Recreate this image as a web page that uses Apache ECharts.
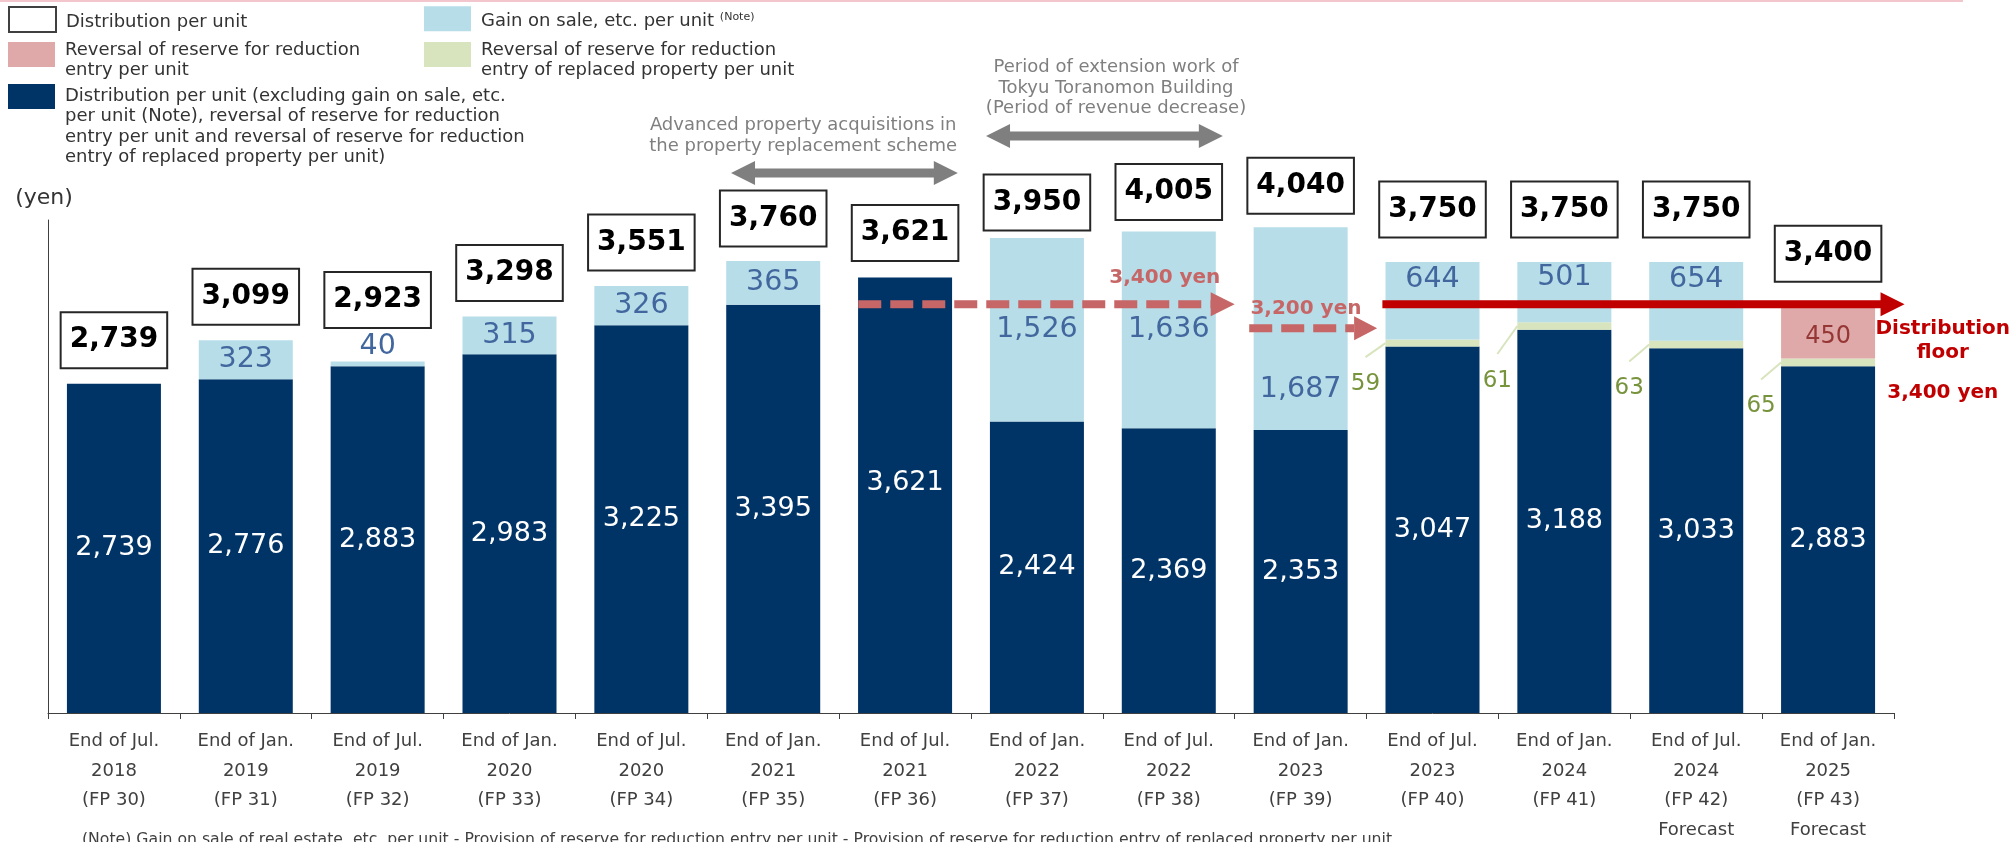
<!DOCTYPE html>
<html>
<head>
<meta charset="utf-8">
<script src="https://cdn.jsdelivr.net/npm/echarts@6/dist/echarts.min.js"></script>
<style>
html,body{margin:0;padding:0;background:#fff;}
#chart{width:2011px;height:842px;}
</style>
</head>
<body>
<div id="chart"></div>
<script>
// ---------- data ----------
const categories = [
  'End of Jul.\n2018\n(FP 30)', 'End of Jan.\n2019\n(FP 31)', 'End of Jul.\n2019\n(FP 32)',
  'End of Jan.\n2020\n(FP 33)', 'End of Jul.\n2020\n(FP 34)', 'End of Jan.\n2021\n(FP 35)',
  'End of Jul.\n2021\n(FP 36)', 'End of Jan.\n2022\n(FP 37)', 'End of Jul.\n2022\n(FP 38)',
  'End of Jan.\n2023\n(FP 39)', 'End of Jul.\n2023\n(FP 40)', 'End of Jan.\n2024\n(FP 41)',
  'End of Jul.\n2024\n(FP 42)\nForecast', 'End of Jan.\n2025\n(FP 43)\nForecast'
];
const baseValues       = [2739, 2776, 2883, 2983, 3225, 3395, 3621, 2424, 2369, 2353, 3047, 3188, 3033, 2883];
const replacedReversal = [null, null, null, null, null, null, null, null, null, null, 59, 61, 63, 65];
const gainValues       = [null, 323, 40, 315, 326, 365, null, 1526, 1636, 1687, 644, 501, 654, null];
const reserveReversal  = [null, null, null, null, null, null, null, null, null, null, null, null, null, 450];
const totals           = [2739, 3099, 2923, 3298, 3551, 3760, 3621, 3950, 4005, 4040, 3750, 3750, 3750, 3400];
const floorValues      = [3400, 3200, 3400];
const floorLabels      = ['3,400 yen', '3,200 yen', 'Distribution\nfloor'];
const floorSubLabel    = '3,400 yen';
const periodRanges     = [[5, 6], [7, 8]];
const periodTexts      = [
  'Advanced property acquisitions in\nthe property replacement scheme',
  'Period of extension work of\nTokyu Toranomon Building\n(Period of revenue decrease)'
];
const noteText = '(Note) Gain on sale of real estate, etc. per unit - Provision of reserve for reduction entry per unit - Provision of reserve for reduction entry of replaced property per unit';

const NAME_TOTAL = 'Distribution per unit';
const NAME_GAIN = 'Gain on sale, etc. per unit';
const NAME_RESERVE = 'Reversal of reserve for reduction entry per unit';
const NAME_REPLACED = 'Reversal of reserve for reduction entry of replaced property per unit';
const NAME_BASE = 'Distribution per unit (excluding gain on sale, etc. per unit (Note), reversal of reserve for reduction entry per unit and reversal of reserve for reduction entry of replaced property per unit)';

// ---------- layout / style ----------
const FONT = '"DejaVu Sans", Verdana, sans-serif';
const C_NAVY = '#003366', C_LBLUE = '#b7dde8', C_PINK = '#e0a9a9', C_GREEN = '#d7e4bd';
const BAR_W = 94;
const totalLabelGap = [16, 16, 34, 16, 16, 15, 17, 8, 12, 14, 25, 25, 25, 23];
const baseLabelOffset = {6: [0, -12]};
const gainLabelLayout = {
  2: {position: 'top', distance: 0},
  9: {position: 'inside', offset: [0, 61]},
  10: {position: 'insideTop', distance: 3},
  11: {position: 'insideTop', distance: 1},
  12: {position: 'insideTop', distance: 3}
};
const leaderDrop = {10: 14, 11: 28, 12: 17, 13: 17};
const floorLayout = [
  {fromCat: 6, fromOff: -0.355, toCat: 8, toOff: 0.5, dashed: true, color: '#c76666', width: 8, head: 24, half: 12, labelCat: 8, labelOff: -0.03, labelDy: -26},
  {fromCat: 9, fromOff: -0.39, toCat: 9, toOff: 0.58, dashed: true, color: '#c76666', width: 8, head: 23, half: 12, labelCat: 9, labelOff: 0.04, labelDy: -19},
  {fromCat: 10, fromOff: -0.38, toCat: 13, toOff: 0.58, dashed: false, color: '#c00000', width: 8, head: 24, half: 12, labelCat: 13, labelOff: 0.87, labelDy: 37, subDy: 89}
];
const periodLayout = [
  {arrowY: 173, fromOff: -0.32, toOff: 0.40, textCat: 5, textOff: 0.227, textY: 136},
  {arrowY: 136, fromOff: -0.386, toOff: 0.41, textCat: 7, textOff: 0.6, textY: 88}
];
const legendText = {};
legendText[NAME_TOTAL] = 'Distribution per unit';
legendText[NAME_GAIN] = 'Gain on sale, etc. per unit {sup|(Note)}';
legendText[NAME_RESERVE] = 'Reversal of reserve for reduction\nentry per unit';
legendText[NAME_REPLACED] = 'Reversal of reserve for reduction\nentry of replaced property per unit';
legendText[NAME_BASE] = 'Distribution per unit (excluding gain on sale, etc.\nper unit (Note), reversal of reserve for reduction\nentry per unit and reversal of reserve for reduction\nentry of replaced property per unit)';

const fmt = v => Number(v).toLocaleString('en-US');

function txt(x, y, text, font, fill, lineHeight) {
  const st = {x: x, y: y, text: text, font: font, fill: fill,
    align: 'center', verticalAlign: 'middle', textAlign: 'center', textVerticalAlign: 'middle'};
  if (lineHeight) st.lineHeight = lineHeight;
  return {type: 'text', style: st};
}

function makeLegend(name, left, top, icon, padTop) {
  return {
    data: [Object.assign({name: name, icon: 'rect'}, icon ? {itemStyle: icon} : {})],
    left: left, top: top, orient: 'vertical', padding: 0, itemGap: 0,
    itemWidth: 47, itemHeight: 25, selectedMode: false,
    formatter: n => legendText[n],
    textStyle: {
      fontFamily: FONT, fontSize: 18, lineHeight: 20.5, color: '#333',
      padding: [padTop, 0, 0, 5],
      rich: {sup: {fontFamily: FONT, fontSize: 11, color: '#333', padding: [0, 0, 9, 0]}}
    }
  };
}

const chart = echarts.init(document.getElementById('chart'), null, {renderer: 'canvas'});

const option = {
  backgroundColor: '#fff',
  animation: false,
  textStyle: {fontFamily: FONT},
  grid: {left: 48, right: 117, top: 220, bottom: 129, containLabel: false, outerBoundsMode: 'none'},
  legend: [
    makeLegend(NAME_TOTAL, 8, 6, {color: '#fff', borderColor: '#404040', borderWidth: 2}, 5),
    makeLegend(NAME_GAIN, 424, 6, null, 5),
    makeLegend(NAME_RESERVE, 8, 28.25, null, 11.5),
    makeLegend(NAME_REPLACED, 424, 28.25, null, 11.5),
    makeLegend(NAME_BASE, 8, 25.25, null, 60.5)
  ],
  xAxis: {
    type: 'category',
    data: categories,
    axisLine: {lineStyle: {color: '#404040', width: 1}},
    axisTick: {show: true, length: 6, lineStyle: {color: '#404040'}},
    axisLabel: {interval: 0, margin: 14, fontFamily: FONT, fontSize: 18, lineHeight: 29.5, color: '#404040'},
    splitLine: {show: false}
  },
  yAxis: {
    type: 'value', min: 0, max: 4100,
    name: '(yen)', nameLocation: 'end', nameGap: 11,
    nameTextStyle: {fontFamily: FONT, fontSize: 22, color: '#333', padding: [0, 8, 0, 0]},
    axisLine: {show: true, lineStyle: {color: '#404040', width: 1}},
    axisTick: {show: false}, axisLabel: {show: false}, splitLine: {show: false}
  },
  graphic: [
    {type: 'line', shape: {x1: 0, y1: 1, x2: 1963, y2: 1}, style: {stroke: '#f3c6ce', lineWidth: 2}, silent: true},
    {type: 'text', left: 82, top: 832, silent: true,
      style: {text: noteText, font: '15.7px ' + FONT, fill: '#404040'}}
  ],
  series: [
    {
      name: NAME_BASE, type: 'bar', stack: 'dpu', barWidth: BAR_W,
      itemStyle: {color: C_NAVY},
      label: {show: true, position: 'inside', color: '#fff', fontSize: 27, fontFamily: FONT, formatter: p => fmt(p.value)},
      data: baseValues.map((v, i) => baseLabelOffset[i] ? {value: v, label: {offset: baseLabelOffset[i]}} : v)
    },
    {
      name: NAME_REPLACED, type: 'bar', stack: 'dpu', barWidth: BAR_W,
      itemStyle: {color: C_GREEN},
      label: {show: false},
      data: replacedReversal
    },
    {
      name: NAME_GAIN, type: 'bar', stack: 'dpu', barWidth: BAR_W,
      itemStyle: {color: C_LBLUE},
      label: {show: true, position: 'inside', color: '#41679e', fontSize: 28.5, fontFamily: FONT,
        formatter: p => (p.value == null ? '' : fmt(p.value))},
      data: gainValues.map((v, i) => gainLabelLayout[i] ? {value: v, label: gainLabelLayout[i]} : v)
    },
    {
      name: NAME_RESERVE, type: 'bar', stack: 'dpu', barWidth: BAR_W,
      itemStyle: {color: C_PINK},
      label: {show: true, position: 'inside', color: '#953735', fontSize: 24, fontFamily: FONT,
        offset: [0, 5], formatter: p => (p.value == null ? '' : fmt(p.value))},
      data: reserveReversal
    },
    {
      name: NAME_TOTAL, type: 'scatter', symbolSize: 1, z: 6,
      itemStyle: {color: 'rgba(0,0,0,0)', opacity: 1},
      emphasis: {disabled: true},
      label: {
        show: true, position: 'top', formatter: p => fmt(p.value),
        fontFamily: FONT, fontSize: 28, fontWeight: 'bold', color: '#000', opacity: 1, lineHeight: 32,
        backgroundColor: '#fff', borderColor: '#262626', borderWidth: 2, padding: [11, 8]
      },
      data: totals.map((v, i) => ({value: v, label: {distance: totalLabelGap[i]}}))
    },
    {
      name: 'leaders', type: 'custom', z: 7, silent: true,
      data: replacedReversal.map((v, i) => v == null ? null : [i, v]).filter(d => d),
      encode: {x: 0, y: 1},
      renderItem: function (params, api) {
        const i = api.value(0), v = api.value(1);
        const p = api.coord([i, baseValues[i] + v / 2]);
        const x0 = p[0] - BAR_W / 2, y0 = p[1];
        const x1 = x0 - 20, y1 = y0 + leaderDrop[i];
        return {type: 'group', children: [
          {type: 'line', shape: {x1: x0, y1: y0, x2: x1, y2: y1}, style: {stroke: C_GREEN, lineWidth: 2}},
          txt(x1, y1 + 27, String(v), '23px ' + FONT, '#77933c')
        ]};
      }
    },
    {
      name: 'floor guides', type: 'custom', z: 8, silent: true,
      data: floorValues.map((v, i) => [floorLayout[i].fromCat, v]),
      encode: {x: 0, y: 1},
      renderItem: function (params, api) {
        const L = floorLayout[params.dataIndex];
        const v = api.value(1);
        const band = api.size([1, 0])[0];
        const y = api.coord([0, v])[1];
        const xAt = (c, off) => api.coord([c, v])[0] + off * band;
        const x1 = xAt(L.fromCat, L.fromOff), x2 = xAt(L.toCat, L.toOff);
        const ht = L.width / 2;
        const children = [];
        if (L.dashed) {
          children.push({type: 'line', shape: {x1: x1, y1: y, x2: x2 - L.head, y2: y},
            style: {stroke: L.color, lineWidth: L.width, lineDash: [23, 9]}});
          children.push({type: 'polygon', shape: {points: [[x2 - L.head, y - L.half], [x2, y], [x2 - L.head, y + L.half]]},
            style: {fill: L.color}});
        } else {
          children.push({type: 'polygon', shape: {points: [
            [x1, y - ht], [x2 - L.head, y - ht], [x2 - L.head, y - L.half], [x2, y],
            [x2 - L.head, y + L.half], [x2 - L.head, y + ht], [x1, y + ht]]}, style: {fill: L.color}});
        }
        const lx = xAt(L.labelCat, L.labelOff);
        children.push(txt(lx, y + L.labelDy, floorLabels[params.dataIndex], 'bold 20px ' + FONT, L.color, 24));
        if (L.subDy) {
          children.push(txt(lx, y + L.subDy, floorSubLabel, 'bold 20px ' + FONT, L.color));
        }
        return {type: 'group', children: children};
      }
    },
    {
      name: 'periods', type: 'custom', z: 8, silent: true,
      data: periodRanges.map(r => [r[0], r[1], 0]),
      encode: {x: [0, 1], y: 2},
      renderItem: function (params, api) {
        const L = periodLayout[params.dataIndex];
        const band = api.size([1, 0])[0];
        const a = api.coord([api.value(0), 0])[0] + L.fromOff * band;
        const b = api.coord([api.value(1), 0])[0] + L.toOff * band;
        const y = L.arrowY, ht = 4.5, h = 12, hl = 24;
        const tx = api.coord([L.textCat, 0])[0] + L.textOff * band;
        return {type: 'group', children: [
          {type: 'polygon', shape: {points: [
            [a, y], [a + hl, y - h], [a + hl, y - ht], [b - hl, y - ht], [b - hl, y - h], [b, y],
            [b - hl, y + h], [b - hl, y + ht], [a + hl, y + ht], [a + hl, y + h]]}, style: {fill: '#7f7f7f'}},
          txt(tx, L.textY, periodTexts[params.dataIndex], '18px ' + FONT, '#7f7f7f', 20.5)
        ]};
      }
    }
  ]
};
chart.setOption(option);
</script>
</body>
</html>
